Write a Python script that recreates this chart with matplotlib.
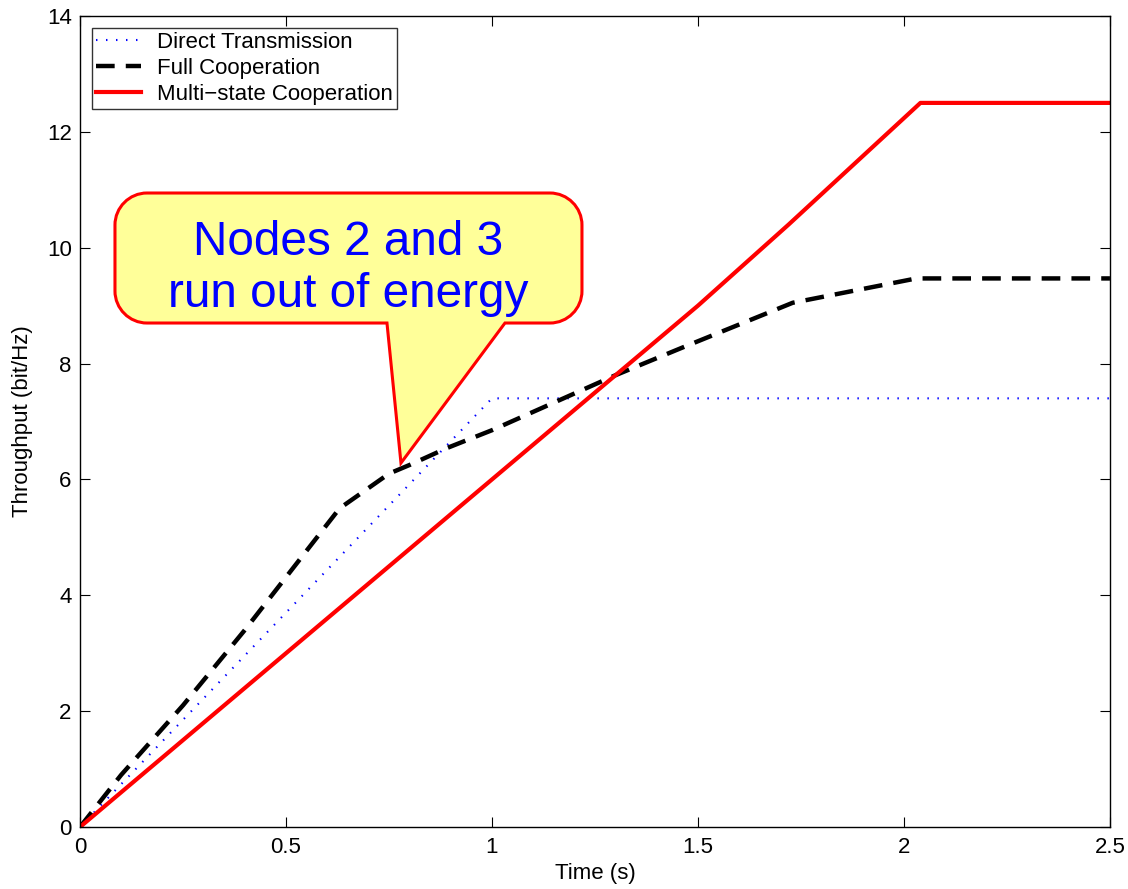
import matplotlib.pyplot as plt
from matplotlib.path import Path
from matplotlib.patches import PathPatch

plt.rcParams['font.family'] = ['Liberation Sans', 'DejaVu Sans']

# data
t_direct = [0, 1.0, 2.5]
y_direct = [0, 7.4, 7.4]

t_full = [0, 0.1, 0.25, 0.4, 0.63, 0.75, 0.8, 0.89, 1.0, 1.3, 1.46, 1.73, 2.03, 2.5]
y_full = [0, 0.9, 2.1, 3.4, 5.5, 6.1, 6.25, 6.54, 6.85, 7.8, 8.27, 9.05, 9.47, 9.47]

t_multi = [0, 1.0, 1.3, 1.5, 1.72, 2.04, 2.5]
y_multi = [0, 6.0, 7.8, 9.0, 10.4, 12.5, 12.5]

xticks = [0, 0.5, 1, 1.5, 2, 2.5]
xticklabels = ['0', '0.5', '1', '1.5', '2', '2.5']
yticks = [0, 2, 4, 6, 8, 10, 12, 14]

fig = plt.figure(figsize=(11.28, 8.89), dpi=100)
ax = fig.add_axes([0.0709, 0.0697, 0.9131, 0.9123])

ax.plot(t_direct, y_direct, color='blue', linestyle=(0, (0.7, 4.1)), linewidth=1.5,
        label='Direct Transmission')
ax.plot(t_full, y_full, color='black', linestyle=(0, (4.2, 2.5)), linewidth=3.2,
        label='Full Cooperation')
ax.plot(t_multi, y_multi, color='red', linestyle='-', linewidth=3,
        label='Multi\u2212state Cooperation')

ax.set_xlim(0, 2.5)
ax.set_ylim(0, 14)
ax.set_xticks(xticks)
ax.set_xticklabels(xticklabels)
ax.set_yticks(yticks)
ax.tick_params(direction='in', top=True, right=True, labelsize=16, length=7,
               width=0.8)
ax.tick_params(axis='x', pad=7)
ax.tick_params(axis='y', pad=6)
for s in ax.spines.values():
    s.set_linewidth(1.0)
ax.set_xlabel('Time (s)', fontsize=16, labelpad=4)
ax.set_ylabel('Throughput (bit/Hz)', fontsize=16, labelpad=10)

leg = ax.legend(loc='upper left', fontsize=16, frameon=True, fancybox=False,
                edgecolor='black', borderpad=0.18, labelspacing=0.22,
                handlelength=2.0, handletextpad=0.75, borderaxespad=0.55)
leg.get_frame().set_linewidth(1.0)

# callout bubble (axes fraction coordinates)
def fx(px):
    return (px - 80) / 1030.0

def fy(py):
    return (827 - py) / 811.0

L, R, T, B = fx(115), fx(582), fy(193), fy(323)
rx, ry = 32 / 1030.0, 32 / 811.0
k = 0.55
verts = [
    (fx(387), B), (fx(401), fy(463)), (fx(505), B),
    (R - rx, B),
    (R - rx + k * rx, B), (R, B + ry - k * ry), (R, B + ry),
    (R, T - ry),
    (R, T - ry + k * ry), (R - rx + k * rx, T), (R - rx, T),
    (L + rx, T),
    (L + rx - k * rx, T), (L, T - ry + k * ry), (L, T - ry),
    (L, B + ry),
    (L, B + ry - k * ry), (L + rx - k * rx, B), (L + rx, B),
    (fx(387), B),
]
codes = ([Path.MOVETO, Path.LINETO, Path.LINETO, Path.LINETO]
         + [Path.CURVE4] * 3 + [Path.LINETO]
         + [Path.CURVE4] * 3 + [Path.LINETO]
         + [Path.CURVE4] * 3 + [Path.LINETO]
         + [Path.CURVE4] * 3 + [Path.CLOSEPOLY])
bubble = PathPatch(Path(verts, codes), transform=ax.transAxes,
                   facecolor='#FFFF99', edgecolor='red', linewidth=2.2,
                   zorder=5, clip_on=False)
ax.add_patch(bubble)
ax.text(fx(348), fy(268), 'Nodes 2 and 3\nrun out of energy',
        transform=ax.transAxes, ha='center', va='center', color='blue',
        fontsize=34.4, linespacing=1.2, zorder=6)

fig.savefig('out.png', dpi=100)
